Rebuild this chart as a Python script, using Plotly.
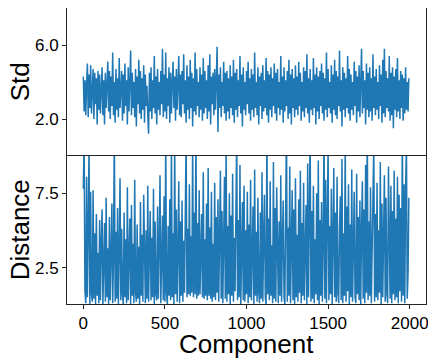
"""
=========================================================
COMPONENT STD / DISTANCE TRACE
=========================================================
"""

import plotly.graph_objects as go
from plotly.subplots import make_subplots

# ==========================================================
# DATA (one value every 5 components)
# ==========================================================

STEP = 5

STD_VALUES = [
    4.3, 2.4, 4.1, 2.2, 3.9, 5.0, 2.1, 4.4, 2.6, 4.9, 2.3, 3.6, 4.7, 2.0, 4.5, 2.8, 4.2, 1.7, 4.6, 2.5,
    4.4, 2.3, 3.8, 4.8, 2.2, 4.1, 1.7, 4.5, 2.6, 3.9, 5.1, 2.4, 4.6, 2.0, 4.3, 2.7, 5.6, 2.2, 4.0, 1.8,
    4.7, 2.5, 4.2, 2.1, 5.3, 2.6, 3.7, 4.6, 1.9, 4.4, 2.3, 5.0, 2.7, 4.1, 1.7, 4.8, 2.4, 3.9, 5.7, 2.2,
    4.5, 2.6, 4.0, 2.1, 4.7, 1.6, 4.3, 2.8, 5.2, 2.3, 4.6, 2.0, 4.2, 2.5, 4.9, 1.8, 4.4, 2.7, 3.8, 2.2,
    1.2, 4.5, 2.4, 4.8, 2.0, 4.1, 2.6, 5.4, 2.3, 4.3, 1.7, 4.7, 2.5, 4.0, 2.2, 4.6, 2.8, 5.8, 2.1, 4.4,
    2.4, 5.6, 2.0, 4.2, 2.7, 4.8, 1.8, 4.5, 2.3, 4.0, 5.1, 2.6, 4.3, 1.9, 4.7, 2.5, 3.9, 5.4, 2.2, 4.4,
    2.1, 4.6, 2.8, 5.5, 2.3, 4.1, 1.8, 4.9, 2.5, 4.3, 2.0, 5.2, 2.6, 4.5, 1.6, 4.2, 2.4, 5.6, 2.2, 4.7,
    2.7, 4.0, 2.1, 4.8, 2.5, 4.4, 1.9, 5.3, 2.3, 4.6, 2.6, 4.1, 2.0, 4.9, 2.4, 5.5, 1.7, 4.3, 2.8, 4.5,
    2.2, 4.7, 2.5, 4.2, 5.9, 1.3, 4.4, 2.6, 4.8, 2.1, 4.0, 2.7, 5.1, 2.3, 4.5, 1.9, 4.6, 2.4, 4.2, 2.0,
    4.9, 2.6, 4.3, 2.2, 5.2, 1.8, 4.5, 2.5, 4.7, 2.1, 4.1, 2.7, 5.4, 2.3, 4.4, 1.6, 4.8, 2.5, 4.0, 2.2,
    4.6, 2.8, 5.1, 2.3, 4.2, 1.9, 4.7, 2.5, 4.4, 2.1, 5.6, 2.6, 4.0, 2.2, 4.8, 1.7, 4.3, 2.7, 4.5, 2.0,
    4.9, 2.4, 4.1, 2.6, 5.3, 2.2, 4.6, 1.8, 4.4, 2.5, 4.8, 2.1, 4.2, 2.7, 5.0, 2.3, 4.5, 1.9, 4.7, 2.6,
    4.0, 2.2, 5.4, 2.5, 4.3, 1.8, 4.8, 2.4, 4.1, 2.7, 4.6, 2.0, 5.2, 2.3, 4.4, 1.7, 4.7, 2.6, 4.2, 2.1,
    4.9, 2.5, 4.3, 2.2, 5.1, 2.7, 4.5, 1.9, 4.0, 2.4, 4.8, 2.1, 4.6, 2.6, 5.5, 2.3, 4.2, 1.8, 4.7, 2.5,
    4.1, 2.2, 5.3, 2.6, 4.4, 1.7, 4.8, 2.4, 4.3, 2.0, 4.6, 2.7, 5.0, 2.3, 4.5, 1.9, 4.2, 2.5, 5.6, 2.1,
    4.7, 2.6, 4.0, 2.3, 4.9, 1.8, 4.4, 2.5, 5.2, 2.2, 4.6, 2.0, 4.3, 2.7, 5.7, 2.4, 4.1, 1.6, 4.8, 2.5,
    4.5, 2.1, 4.2, 2.6, 5.4, 2.3, 4.7, 1.9, 4.4, 2.5, 4.0, 2.2, 5.1, 2.7, 4.6, 1.8, 4.3, 2.4, 4.9, 2.1,
    4.4, 5.8, 2.3, 4.6, 2.6, 4.1, 1.7, 5.0, 2.5, 4.5, 2.1, 4.8, 2.4, 4.2, 1.9, 5.5, 2.6, 4.3, 2.2, 4.7,
    2.5, 4.0, 2.0, 4.9, 2.7, 4.4, 1.8, 5.2, 2.3, 5.8, 2.1, 4.6, 2.6, 4.2, 2.4, 5.4, 1.9, 4.5, 2.2, 4.8,
    1.5, 4.3, 2.5, 4.7, 2.1, 5.3, 2.4, 4.1, 2.0, 4.6, 2.6, 4.4, 1.9, 4.2, 2.3, 4.8, 2.5, 4.0, 2.4, 4.2,
]

DISTANCE_VALUES = [
    7.8, 11.2, 0.9, 0.1, 8.6, 0.5, 5.2, 10.8, 0.0, 7.6, 0.7, 0.2, 7.7, 0.4, 4.8, 0.0, 6.1, 0.6, 3.5, 0.1,
    5.7, 0.3, 4.2, 6.4, 0.0, 2.9, 5.5, 0.2, 7.2, 0.5, 3.8, 0.0, 5.9, 0.3, 4.6, 6.8, 0.1, 3.1, 12.0, 0.2,
    4.9, 0.4, 6.5, 0.0, 3.7, 8.5, 0.3, 5.1, 0.7, 0.0, 6.2, 0.5, 4.4, 0.1, 7.9, 0.3, 3.3, 5.8, 0.0, 6.7,
    0.6, 4.1, 0.1, 8.4, 0.8, 0.2, 5.4, 0.4, 3.9, 0.0, 6.9, 0.6, 4.7, 0.2, 7.4, 0.9, 0.1, 5.0, 0.4, 8.0,
    0.2, 3.6, 6.3, 0.3, 4.5, 0.5, 7.8, 0.0, 5.6, 0.7, 0.3, 6.6, 0.4, 4.0, 8.7, 0.1, 3.4, 6.0, 0.3, 7.3,
    0.2, 11.5, 0.8, 0.0, 5.3, 0.6, 7.1, 0.3, 10.6, 0.5, 4.8, 0.0, 11.0, 0.7, 6.4, 0.2, 3.7, 8.3, 0.1, 5.6,
    0.6, 7.0, 0.2, 4.3, 0.8, 6.7, 11.3, 0.5, 5.1, 0.7, 8.1, 0.6, 4.6, 0.8, 10.9, 0.5, 6.2, 0.7, 12.2, 0.4,
    5.5, 0.6, 7.7, 0.7, 3.8, 6.1, 0.5, 8.9, 0.4, 4.4, 0.6, 6.8, 0.3, 9.2, 0.6, 5.2, 0.4, 7.6, 0.2, 4.1,
    0.5, 8.2, 0.3, 5.9, 0.8, 7.1, 0.2, 4.7, 9.0, 0.4, 6.3, 0.1, 3.9, 8.6, 0.4, 10.7, 0.2, 5.3, 0.7, 7.5,
    0.0, 6.0, 0.6, 8.8, 0.2, 4.5, 0.9, 7.3, 11.4, 0.3, 5.7, 0.5, 9.4, 0.0, 4.2, 6.9, 0.3, 8.0, 0.2, 5.0,
    0.7, 7.6, 0.1, 5.4, 0.5, 8.4, 0.3, 3.6, 6.6, 0.0, 9.1, 0.6, 4.9, 0.2, 7.2, 0.8, 0.1, 6.2, 0.4, 8.9,
    0.2, 4.6, 7.4, 0.5, 0.0, 11.8, 0.7, 5.8, 0.3, 8.3, 0.6, 4.0, 0.1, 9.6, 0.4, 6.5, 0.2, 7.9, 0.9, 0.1,
    5.6, 0.6, 8.7, 0.2, 4.3, 7.0, 0.5, 0.0, 6.1, 12.1, 0.2, 5.2, 0.6, 9.3, 0.1, 3.8, 7.7, 0.3, 6.4, 0.0,
    8.5, 0.5, 4.7, 0.2, 7.1, 0.8, 9.0, 0.1, 5.5, 0.6, 8.2, 0.3, 3.9, 6.7, 0.0, 9.5, 0.5, 5.0, 11.6, 0.2,
    6.3, 0.4, 8.0, 0.1, 4.4, 0.7, 7.5, 0.3, 9.7, 0.0, 5.7, 0.6, 6.9, 0.2, 4.1, 11.9, 0.4, 8.4, 0.1, 6.0,
    10.5, 0.3, 5.3, 0.7, 7.8, 0.0, 4.6, 9.2, 0.5, 6.2, 0.2, 8.6, 0.8, 0.1, 5.1, 7.3, 0.3, 9.8, 0.1, 4.8,
    0.6, 11.1, 0.2, 6.6, 0.9, 8.1, 0.0, 5.4, 0.5, 9.1, 0.2, 4.2, 7.6, 0.5, 0.1, 8.8, 0.7, 5.9, 0.3, 7.0,
    0.0, 4.9, 8.3, 0.4, 6.4, 0.1, 9.4, 0.8, 12.3, 0.3, 5.6, 0.6, 7.9, 0.1, 4.5, 8.9, 10.8, 0.2, 6.1, 0.5,
    8.2, 0.3, 5.0, 0.8, 9.6, 0.0, 6.8, 0.5, 4.3, 8.7, 0.2, 7.2, 0.7, 0.1, 9.3, 5.5, 0.4, 8.0, 0.1, 6.3,
    0.7, 9.0, 0.3, 5.8, 0.5, 8.6, 0.1, 7.4, 0.9, 6.5, 0.2, 11.7, 0.6, 8.1, 0.1, 7.8, 10.9, 0.4, 2.1, 7.2,
]

COMPONENTS = [i * STEP for i in range(len(STD_VALUES))]

X_TICKS = [0, 500, 1000, 1500, 2000]

LINE_COLOR = "#1f77b4"
AXIS_COLOR = "#262626"
FONT = "Liberation Sans, Arial, sans-serif"

# ==========================================================
# FIGURE
# ==========================================================

fig = make_subplots(
    rows=2,
    cols=1,
    shared_xaxes=True,
    vertical_spacing=0
)

fig.add_trace(
    go.Scatter(
        x=COMPONENTS,
        y=STD_VALUES,
        mode="lines",
        line=dict(color=LINE_COLOR, width=1.5),
        showlegend=False
    ),
    row=1, col=1
)

fig.add_trace(
    go.Scatter(
        x=COMPONENTS,
        y=DISTANCE_VALUES,
        mode="lines",
        line=dict(color=LINE_COLOR, width=1.5),
        showlegend=False
    ),
    row=2, col=1
)

# ==========================================================
# AXES
# ==========================================================

axis_style = dict(
    showline=True,
    mirror=True,
    linecolor=AXIS_COLOR,
    linewidth=1,
    showgrid=False,
    zeroline=False,
    automargin=False,
    ticks="outside",
    ticklen=4,
    tickwidth=1,
    tickcolor=AXIS_COLOR,
    tickfont=dict(size=17, color="black", family=FONT)
)

fig.update_xaxes(**axis_style)
fig.update_yaxes(**axis_style)

# top panel: only its top border, the shared middle line comes from the lower axis
fig.update_xaxes(
    range=[-100, 2100],
    side="top",
    mirror=False,
    showticklabels=False,
    ticks="",
    row=1, col=1
)

fig.update_xaxes(
    range=[-100, 2100],
    tickvals=X_TICKS,
    row=2, col=1
)

fig.update_yaxes(
    range=[0, 8],
    tickvals=[2, 6],
    tickformat=".1f",
    domain=[0.5, 1.0],
    row=1, col=1
)

fig.update_yaxes(
    range=[0.05, 10],
    tickvals=[2.5, 7.5],
    tickformat=".1f",
    domain=[0.0, 0.5],
    row=2, col=1
)

# ==========================================================
# AXIS TITLES (placed as annotations for exact positions)
# ==========================================================

title_font = dict(size=26, color="black", family=FONT)

fig.add_annotation(
    text="Std", xref="paper", yref="paper",
    x=-0.13, y=0.75, textangle=-90,
    xanchor="center", yanchor="middle",
    showarrow=False, font=title_font
)

fig.add_annotation(
    text="Distance", xref="paper", yref="paper",
    x=-0.13, y=0.25, textangle=-90,
    xanchor="center", yanchor="middle",
    showarrow=False, font=title_font
)

fig.add_annotation(
    text="Component", xref="paper", yref="paper",
    x=0.5, y=-0.135,
    xanchor="center", yanchor="middle",
    showarrow=False, font=title_font
)

# page body adds an 8px offset, so the figure is sized to fit the window
fig.update_layout(
    width=428,
    height=356,
    margin=dict(l=59, r=10, t=0, b=60),
    paper_bgcolor="white",
    plot_bgcolor="white",
    font=dict(family=FONT, color="black")
)

fig.write_html("out.html")
